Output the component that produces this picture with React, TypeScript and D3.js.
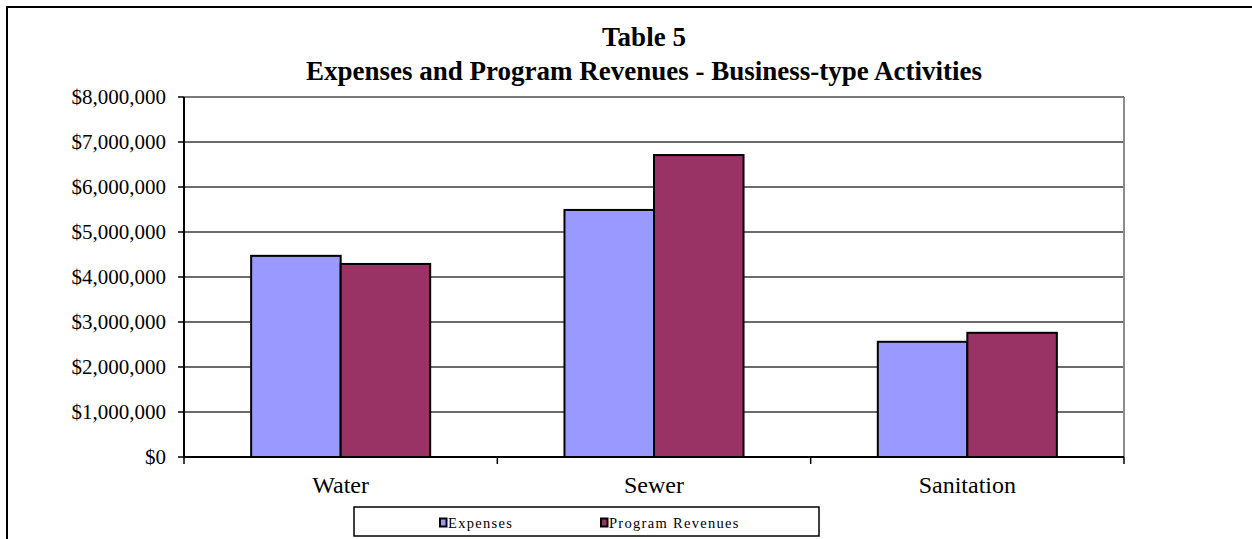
import React from "react";
import * as d3 from "d3";

const categories = ["Water", "Sewer", "Sanitation"];
const seriesNames = ["Expenses", "Program Revenues"];
const expenses = [4470000, 5490000, 2560000];
const programRevenues = [4290000, 6710000, 2760000];
const yTicks = [0, 1000000, 2000000, 3000000, 4000000, 5000000, 6000000, 7000000, 8000000];
const titleLines = ["Table 5", "Expenses and Program Revenues - Business-type Activities"];

const colors = ["#9999FF", "#993366"];
const W = 1252;
const H = 539;
const left = 184, right = 1124, top = 97, bottom = 457;
const serif = "'Liberation Serif', 'Times New Roman', serif";

export default function App() {
  const y = d3.scaleLinear().domain([0, 8000000]).range([bottom, top]);
  const x0 = d3.scaleBand<string>().domain(categories).range([left, right]).padding(0);
  const x1 = d3.scaleBand<string>().domain(seriesNames).range([0, x0.bandwidth()]).paddingInner(0).paddingOuter(0.75);
  const fmt = (v: number) => "$" + d3.format(",")(v);
  const values = [expenses, programRevenues];
  const boundaries = [...categories.map((c) => x0(c) as number), right];

  return (
    <svg width={W} height={H} style={{ position: "absolute", left: 0, top: 0, background: "#fff" }}>
      <rect x={0} y={0} width={W} height={H} fill="#fff" />
      <rect x={7} y={7} width={W + 20} height={H + 20} fill="none" stroke="#000" strokeWidth={2} />
      {titleLines.map((t, i) => (
        <text key={t} x={644} y={46 + i * 34} textAnchor="middle" fontFamily={serif} fontWeight="bold" fontSize={27} fill="#000">
          {t}
        </text>
      ))}
      {yTicks.slice(1).map((v) => (
        <line key={"g" + v} x1={left} x2={right} y1={y(v)} y2={y(v)} stroke="#3a3a3a" strokeWidth={1.5} />
      ))}
      <line x1={right} x2={right} y1={top} y2={bottom} stroke="#8c8c8c" strokeWidth={2} />
      <line x1={left} x2={right} y1={top} y2={top} stroke="#8c8c8c" strokeWidth={1} />
      {categories.map((c, ci) =>
        seriesNames.map((s, si) => {
          const v = values[si][ci];
          const bx = (x0(c) as number) + (x1(s) as number);
          return (
            <rect key={c + s} x={bx} y={y(v)} width={x1.bandwidth()} height={bottom - y(v)} fill={colors[si]} stroke="#000" strokeWidth={2} />
          );
        })
      )}
      <line x1={left} x2={left} y1={top} y2={bottom} stroke="#000" strokeWidth={2} />
      <line x1={left} x2={right} y1={bottom} y2={bottom} stroke="#000" strokeWidth={2} />
      {yTicks.map((v) => (
        <g key={"t" + v}>
          <line x1={178} x2={left} y1={y(v)} y2={y(v)} stroke="#000" strokeWidth={1.5} />
          <text x={166} y={y(v)} dy="0.35em" textAnchor="end" fontFamily={serif} fontSize={21} fill="#000">
            {fmt(v)}
          </text>
        </g>
      ))}
      {boundaries.map((b, i) => (
        <line key={"xt" + i} x1={b} x2={b} y1={bottom} y2={bottom + 7} stroke="#000" strokeWidth={1.5} />
      ))}
      {categories.map((c) => (
        <text key={"xl" + c} x={(x0(c) as number) + x0.bandwidth() / 2} y={493} textAnchor="middle" fontFamily={serif} fontSize={24} fill="#000">
          {c}
        </text>
      ))}
      <rect x={354} y={507} width={465} height={29} fill="#fff" stroke="#000" strokeWidth={1.5} />
      {seriesNames.map((s, i) => {
        const lx = [440, 601][i];
        return (
          <g key={"lg" + s}>
            <rect x={lx} y={518.5} width={6.5} height={8} fill={colors[i]} stroke="#000" strokeWidth={2} />
            <text x={lx + 8} y={527.5} fontFamily={serif} fontSize={14.5} letterSpacing={1.3} fill="#000">
              {s}
            </text>
          </g>
        );
      })}
    </svg>
  );
}
